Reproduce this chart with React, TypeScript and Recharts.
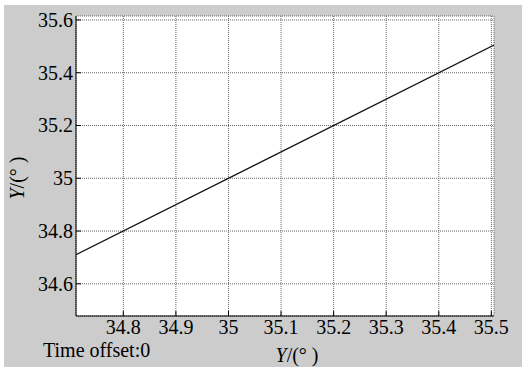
import { LineChart, Line, XAxis, YAxis, CartesianGrid } from "recharts";

const xValues = [34.71, 35.505];
const yValues = [34.71, 35.505];
const xTicks = [34.8, 34.9, 35, 35.1, 35.2, 35.3, 35.4, 35.5];
const yTicks = [34.6, 34.8, 35, 35.2, 35.4, 35.6];
const xDomain = [34.71, 35.505];
const yDomain = [34.478, 35.615];
const axisLabel = "/(°  )";
const footer = "Time offset:0";

const data = xValues.map((x, i) => ({ x, y: yValues[i] }));

const serif = "Liberation Serif";
const fmt = (v: number) => String(+v.toFixed(1));

function XTick({ x, y, payload }: any) {
  return (
    <text x={x} y={y} dy={15} textAnchor="middle" fill="#000" fontFamily={serif} fontSize={20}>
      {fmt(payload.value)}
    </text>
  );
}

function YTick({ x, y, payload }: any) {
  return (
    <text x={x} y={y} dy={7} textAnchor="end" fill="#000" fontFamily={serif} fontSize={20}>
      {fmt(payload.value)}
    </text>
  );
}

export default function App() {
  return (
    <div style={{ position: "absolute", left: 0, top: 0, width: 522, height: 367, background: "#fff" }}>
      <div style={{ position: "absolute", left: 4, top: 5, width: 518, height: 362, background: "#cccccc" }} />
      <div style={{ position: "absolute", left: 0, top: 0 }}>
        <LineChart width={522} height={367} data={data} margin={{ top: 16, right: 28, bottom: 21, left: 0 }}>
          <CartesianGrid fill="#fff" stroke="#666" strokeDasharray="1 1" />
          <XAxis
            dataKey="x" type="number" domain={xDomain} ticks={xTicks} allowDataOverflow
            height={30} tickSize={-5} tickMargin={8}
            stroke="#000" tick={<XTick />}
          />
          <XAxis
            xAxisId="top" orientation="top" type="number" domain={xDomain} ticks={xTicks} allowDataOverflow
            height={0} tickSize={-5} stroke="#000" tick={{ fontSize: 0 }}
          />
          <YAxis
            type="number" domain={yDomain} ticks={yTicks} allowDataOverflow
            width={76} tickSize={-5} tickMargin={8}
            stroke="#000" tick={<YTick />}
          />
          <YAxis
            yAxisId="right" orientation="right" type="number" domain={yDomain} ticks={yTicks} allowDataOverflow
            width={0} tickSize={-5} stroke="#000" tick={{ fontSize: 0 }}
          />
          <Line type="linear" dataKey="y" stroke="#111" strokeWidth={1.2} dot={false} isAnimationActive={false} />
        </LineChart>
      </div>
      <svg width={522} height={367} style={{ position: "absolute", left: 0, top: 0, pointerEvents: "none" }}>
        <text x={43} y={357} fill="#000" fontFamily={serif} fontSize={20}>{footer}</text>
        <text x={297} y={362} textAnchor="middle" fill="#000" fontFamily={serif} fontSize={20}>
          <tspan fontStyle="italic">Y</tspan>{axisLabel}
        </text>
        <text x={24} y={178} transform="rotate(-90 24 178)" textAnchor="middle" fill="#000" fontFamily={serif} fontSize={20}>
          <tspan fontStyle="italic">Y</tspan>{axisLabel}
        </text>
      </svg>
    </div>
  );
}
